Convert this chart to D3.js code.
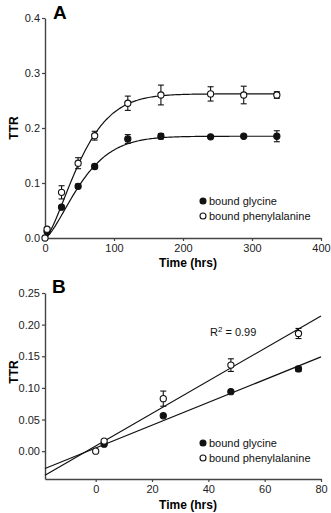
<!DOCTYPE html>
<html>
<head>
<meta charset="utf-8">
<script src="https://cdn.jsdelivr.net/npm/d3@7"></script>
<style>
  body { margin: 0; background: #fff; }
  svg { display: block; font-family: Arial, "Liberation Sans", sans-serif; }
</style>
</head>
<body>
<div id="chart"></div>
<script>
// ---- panel A data (time course) ----
let timesGly = [3, 24, 48, 72, 120, 168, 240, 288, 336];
let ttrGly = [0.012, 0.056, 0.094, 0.130, 0.180, 0.185, 0.184, 0.185, 0.185];
let errGly = [0.002, 0.003, 0.004, 0.004, 0.008, 0.005, 0.003, 0.003, 0.010];

let timesPhe = [0, 3, 24, 48, 72, 120, 168, 240, 288, 336];
let ttrPhe = [0.000, 0.016, 0.083, 0.136, 0.186, 0.245, 0.260, 0.262, 0.260, 0.260];
let errPhe = [0, 0.002, 0.012, 0.010, 0.008, 0.013, 0.018, 0.013, 0.016, 0.006];

// sigmoidal rise fits: plateau, time constant, shape
let fitGly = { plateau: 0.185, tau: 62, n: 1.45 };
let fitPhe = { plateau: 0.262, tau: 61, n: 1.45 };

let xTicksA = [0, 100, 200, 300, 400];
let yTicksA = [0.0, 0.1, 0.2, 0.3, 0.4];

// ---- panel B data (early linear phase) ----
let timesGlyB = [3, 24, 48, 72];
let ttrGlyB = [0.011, 0.056, 0.094, 0.130];
let errGlyB = [0.002, 0.003, 0.003, 0.004];

let timesPheB = [0, 3, 24, 48, 72];
let ttrPheB = [0.000, 0.016, 0.083, 0.136, 0.186];
let errPheB = [0, 0.002, 0.012, 0.010, 0.008];

// linear fits: slope, intercept
let lineGly = { slope: 0.0018, intercept: 0.005 };
let linePhe = { slope: 0.00257, intercept: 0.0082 };

let xTicksB = [0, 20, 40, 60, 80];
let yTicksB = [0.00, 0.05, 0.10, 0.15, 0.20, 0.25];

let legendLabels = ['bound glycine', 'bound phenylalanine'];

let width = 331;
let height = 513;
let axisColor = '#444';

let svg = d3.select('#chart')
  .append('svg')
  .attr('width', width)
  .attr('height', height)
  .style('background-color', '#fff');

let drawAxes = (g, x, y, xTicks, yTicks, yFmt, xLabelY, yLabelY) => {
  let ax = g.append('g')
    .attr('transform', 'translate(0,' + y.range()[0] + ')')
    .call(d3.axisBottom(x).tickValues(xTicks).tickSize(3).tickSizeOuter(0).tickPadding(3));
  let ay = g.append('g')
    .attr('transform', 'translate(' + x.range()[0] + ',0)')
    .call(d3.axisLeft(y).tickValues(yTicks).tickFormat(yFmt).tickSize(3).tickSizeOuter(0).tickPadding(2));
  [ax, ay].forEach(a => {
    a.select('.domain').attr('stroke', axisColor).attr('stroke-width', 1.4);
    a.selectAll('.tick line').attr('stroke', axisColor).attr('stroke-width', 1.2);
    a.selectAll('.tick text').attr('fill', '#222').style('font-size', '11px');
  });

  g.append('text')
    .attr('x', (x.range()[0] + x.range()[1]) / 2 + 5)
    .attr('y', xLabelY)
    .attr('text-anchor', 'middle')
    .style('font-size', '12px')
    .style('font-weight', 'bold')
    .text('Time (hrs)');

  g.append('text')
    .attr('transform', 'translate(18,' + yLabelY + ') rotate(-90)')
    .attr('text-anchor', 'middle')
    .style('font-size', '12px')
    .style('font-weight', 'bold')
    .text('TTR');
};

let drawPoints = (g, x, y, ts, vs, es, filled) => {
  let pts = ts.map((t, i) => ({ t: t, v: vs[i], e: es[i] }));
  let eb = g.append('g').attr('stroke', '#111').attr('stroke-width', 1.1);
  pts.filter(d => d.e > 0.003).forEach(d => {
    eb.append('line')
      .attr('x1', x(d.t)).attr('x2', x(d.t))
      .attr('y1', y(d.v - d.e)).attr('y2', y(d.v + d.e));
    [d.v - d.e, d.v + d.e].forEach(v => {
      eb.append('line')
        .attr('x1', x(d.t) - 3).attr('x2', x(d.t) + 3)
        .attr('y1', y(v)).attr('y2', y(v));
    });
  });
  g.selectAll(null)
    .data(pts)
    .enter()
    .append('circle')
    .attr('cx', d => x(d.t))
    .attr('cy', d => y(d.v))
    .attr('r', 3.1)
    .attr('fill', filled ? '#111' : '#fff')
    .attr('stroke', '#111')
    .attr('stroke-width', 1.1);
};

let drawLegend = (g, lx, ly) => {
  legendLabels.forEach((label, i) => {
    g.append('circle')
      .attr('cx', lx)
      .attr('cy', ly + i * 15)
      .attr('r', 3)
      .attr('fill', i === 0 ? '#111' : '#fff')
      .attr('stroke', '#111')
      .attr('stroke-width', 1.1);
    g.append('text')
      .attr('x', lx + 6)
      .attr('y', ly + i * 15 + 4)
      .style('font-size', '11px')
      .attr('fill', '#111')
      .text(label);
  });
};

// ---------- Panel A ----------
let gA = svg.append('g');
let xA = d3.scaleLinear().domain([0, 400]).range([45, 321]);
let yA = d3.scaleLinear().domain([0, 0.4]).range([238, 18]);

drawAxes(gA, xA, yA, xTicksA, yTicksA, d3.format('.1f'), 267, 128);

let curve = fit => d3.line()
  .x(t => xA(t))
  .y(t => yA(fit.plateau * (1 - Math.exp(-Math.pow(t / fit.tau, fit.n)))))
  .curve(d3.curveBasis);

let tSamples = d3.range(0, 337, 2);
[fitGly, fitPhe].forEach(fit => {
  gA.append('path')
    .datum(tSamples)
    .attr('d', curve(fit))
    .attr('fill', 'none')
    .attr('stroke', '#111')
    .attr('stroke-width', 1.2);
});

drawPoints(gA, xA, yA, timesGly, ttrGly, errGly, true);
drawPoints(gA, xA, yA, timesPhe, ttrPhe, errPhe, false);
drawLegend(gA, 203, 201);

gA.append('text')
  .attr('x', 53)
  .attr('y', 19)
  .style('font-size', '19px')
  .style('font-weight', 'bold')
  .text('A');

// ---------- Panel B ----------
let gB = svg.append('g');
let xB = d3.scaleLinear().domain([-18, 80]).range([45, 321]);
let yB = d3.scaleLinear().domain([-0.044, 0.25]).range([479, 293]);

drawAxes(gB, xB, yB, xTicksB, yTicksB, d3.format('.2f'), 509, 372);

[lineGly, linePhe].forEach(l => {
  let xs = xB.domain();
  gB.append('line')
    .attr('x1', xB(xs[0])).attr('y1', yB(l.intercept + l.slope * xs[0]))
    .attr('x2', xB(xs[1])).attr('y2', yB(l.intercept + l.slope * xs[1]))
    .attr('stroke', '#111')
    .attr('stroke-width', 1.2);
});

drawPoints(gB, xB, yB, timesGlyB, ttrGlyB, errGlyB, true);
drawPoints(gB, xB, yB, timesPheB, ttrPheB, errPheB, false);
drawLegend(gB, 203, 443);

let r2 = gB.append('text')
  .attr('x', 210)
  .attr('y', 336)
  .style('font-size', '11px')
  .attr('fill', '#111');
r2.append('tspan').text('R');
r2.append('tspan').attr('dy', -4).style('font-size', '8px').text('2');
r2.append('tspan').attr('dy', 4).text(' = 0.99');

gB.append('text')
  .attr('x', 52)
  .attr('y', 293)
  .style('font-size', '19px')
  .style('font-weight', 'bold')
  .text('B');
</script>
</body>
</html>
